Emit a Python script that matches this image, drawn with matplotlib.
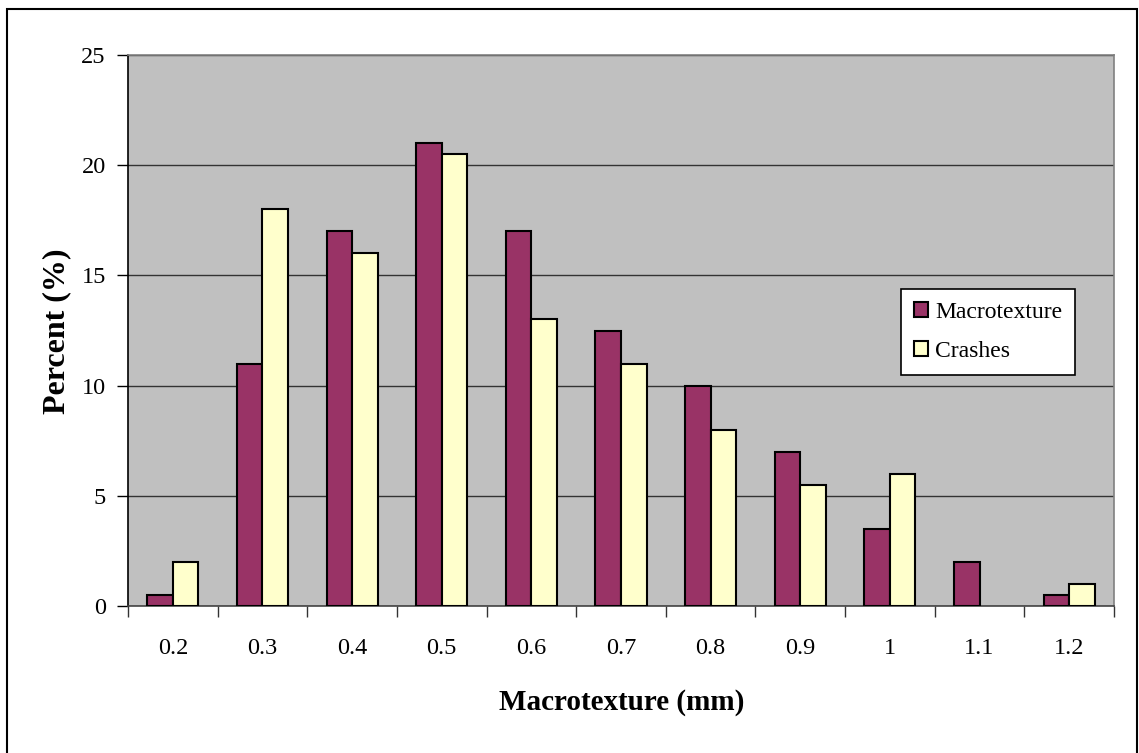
import matplotlib
matplotlib.use("Agg")
import matplotlib.pyplot as plt
import numpy as np
from matplotlib.patches import Rectangle

categories = ["0.2", "0.3", "0.4", "0.5", "0.6", "0.7", "0.8", "0.9", "1", "1.1", "1.2"]
macrotexture = [0.5, 11, 17, 21, 17, 12.5, 10, 7, 3.5, 2, 0.5]
crashes = [2, 18, 16, 20.5, 13, 11, 8, 5.5, 6, 0, 1]
yticks = [0, 5, 10, 15, 20, 25]

plt.rcParams['font.family'] = ['Liberation Serif', 'DejaVu Serif']

W, H = 1139, 753
fig = plt.figure(figsize=(W / 100, H / 100), dpi=100)
ax = fig.add_axes([128 / W, 1 - 606 / H, (1114 - 128) / W, (606 - 55) / H])
ax.set_facecolor('#C0C0C0')

x = np.arange(len(categories))
bw = 0.285
ax.bar(x - bw / 2, macrotexture, width=bw, color='#993366', edgecolor='black',
       linewidth=[1.5 if v > 0 else 0 for v in macrotexture], label='Macrotexture', zorder=3)
ax.bar(x + bw / 2, crashes, width=bw, color='#FFFFCC', edgecolor='black',
       linewidth=[1.5 if v > 0 else 0 for v in crashes], label='Crashes', zorder=3)

ax.set_xlim(-0.5, len(categories) - 0.5)
ax.set_ylim(0, 25)
ax.set_yticks(yticks)
ax.set_yticklabels([str(v) for v in yticks], fontsize=17.5)
ax.yaxis.grid(True, color='#333333', linewidth=1.0, zorder=1)
ax.set_axisbelow(True)

ax.set_xticks(np.arange(len(categories) + 1) - 0.5)
ax.set_xticklabels([])
ax.set_xticks(x, minor=True)
ax.set_xticklabels(categories, minor=True, fontsize=17.5)
ax.tick_params(axis='x', which='major', direction='out', length=8, width=1, color='#333333')
ax.tick_params(axis='x', which='minor', length=0, pad=23)
ax.tick_params(axis='y', direction='out', length=8, width=1, pad=8)

ax.spines['left'].set_color('black')
ax.spines['left'].set_linewidth(1.2)
ax.spines['bottom'].set_color('#444444')
ax.spines['bottom'].set_linewidth(1.2)
ax.spines['top'].set_color('#808080')
ax.spines['right'].set_color('#808080')
ax.spines['top'].set_linewidth(1.2)
ax.spines['right'].set_linewidth(1.2)

fig.text(57 / W, 1 - 331 / H, 'Percent (%)', rotation=90, ha='center', va='center',
         fontsize=23, fontweight='bold')
fig.text(622 / W, 1 - 702 / H, 'Macrotexture (mm)', ha='center', va='center',
         fontsize=21, fontweight='bold')

leg = ax.legend(loc='upper left', bbox_to_anchor=(901 / W, 1 - 289 / H),
                bbox_transform=fig.transFigure, borderaxespad=0, fontsize=17,
                fancybox=False, framealpha=1, edgecolor='black', handlelength=0.6,
                handleheight=0.6, handletextpad=0.3, labelspacing=0.75,
                borderpad=0.55)
leg.get_frame().set_linewidth(1.2)

fig.patches.append(Rectangle((7 / W, -0.05), (1137 - 7) / W, 1 - 9 / H + 0.05,
                             transform=fig.transFigure, fill=False,
                             edgecolor='black', linewidth=1.5))

fig.savefig('out.png', dpi=100)
